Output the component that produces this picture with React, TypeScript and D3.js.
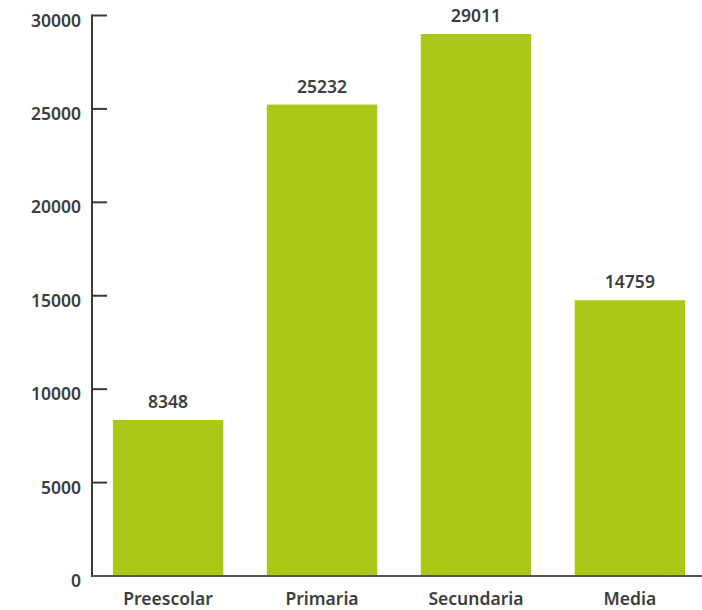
import React from "react";
import * as d3 from "d3";

const categories = ["Preescolar", "Primaria", "Secundaria", "Media"];
const values = [8348, 25232, 29011, 14759];
const yTicks = [0, 5000, 10000, 15000, 20000, 25000, 30000];

const W = 702;
const H = 610;
const axisX = 92;
const font = "'Noto Sans', sans-serif";
const textColor = "#3d3d3d";
const fs = 17.5;

export default function App() {
  const x = d3
    .scaleBand<string>()
    .domain(categories)
    .range([96, 702])
    .paddingInner(0.283)
    .paddingOuter(0.11);
  const y = d3.scaleLinear().domain([0, 30000]).range([576, 15.5]);

  return (
    <svg
      width={W}
      height={H}
      style={{ position: "absolute", left: 0, top: 0 }}
      fontFamily={font}
    >
      {categories.map((c, i) => (
        <g key={c}>
          <rect
            x={x(c)}
            y={y(values[i])}
            width={x.bandwidth()}
            height={y(0) - y(values[i])}
            fill="#acc716"
          />
          <text
            x={(x(c) as number) + x.bandwidth() / 2}
            y={y(values[i]) - 12}
            textAnchor="middle"
            fontSize={fs}
            fontWeight={600}
            fill={textColor}
          >
            {values[i]}
          </text>
          <text
            x={(x(c) as number) + x.bandwidth() / 2}
            y={605}
            textAnchor="middle"
            fontSize={fs}
            fontWeight={600}
            fill={textColor}
          >
            {c}
          </text>
        </g>
      ))}
      {yTicks.map((t) => (
        <g key={t}>
          <line x1={axisX} x2={axisX + 15} y1={y(t)} y2={y(t)} stroke="#3a3a3a" strokeWidth={2} />
          <text
            x={81}
            y={y(t) + 11}
            textAnchor="end"
            fontSize={fs}
            fontWeight={600}
            fill={textColor}
          >
            {t}
          </text>
        </g>
      ))}
      <line x1={axisX} x2={axisX} y1={y(30000) - 1} y2={y(0) + 1} stroke="#3a3a3a" strokeWidth={2} />
      <line x1={axisX} x2={W} y1={y(0)} y2={y(0)} stroke="#555" strokeWidth={2} />
    </svg>
  );
}
